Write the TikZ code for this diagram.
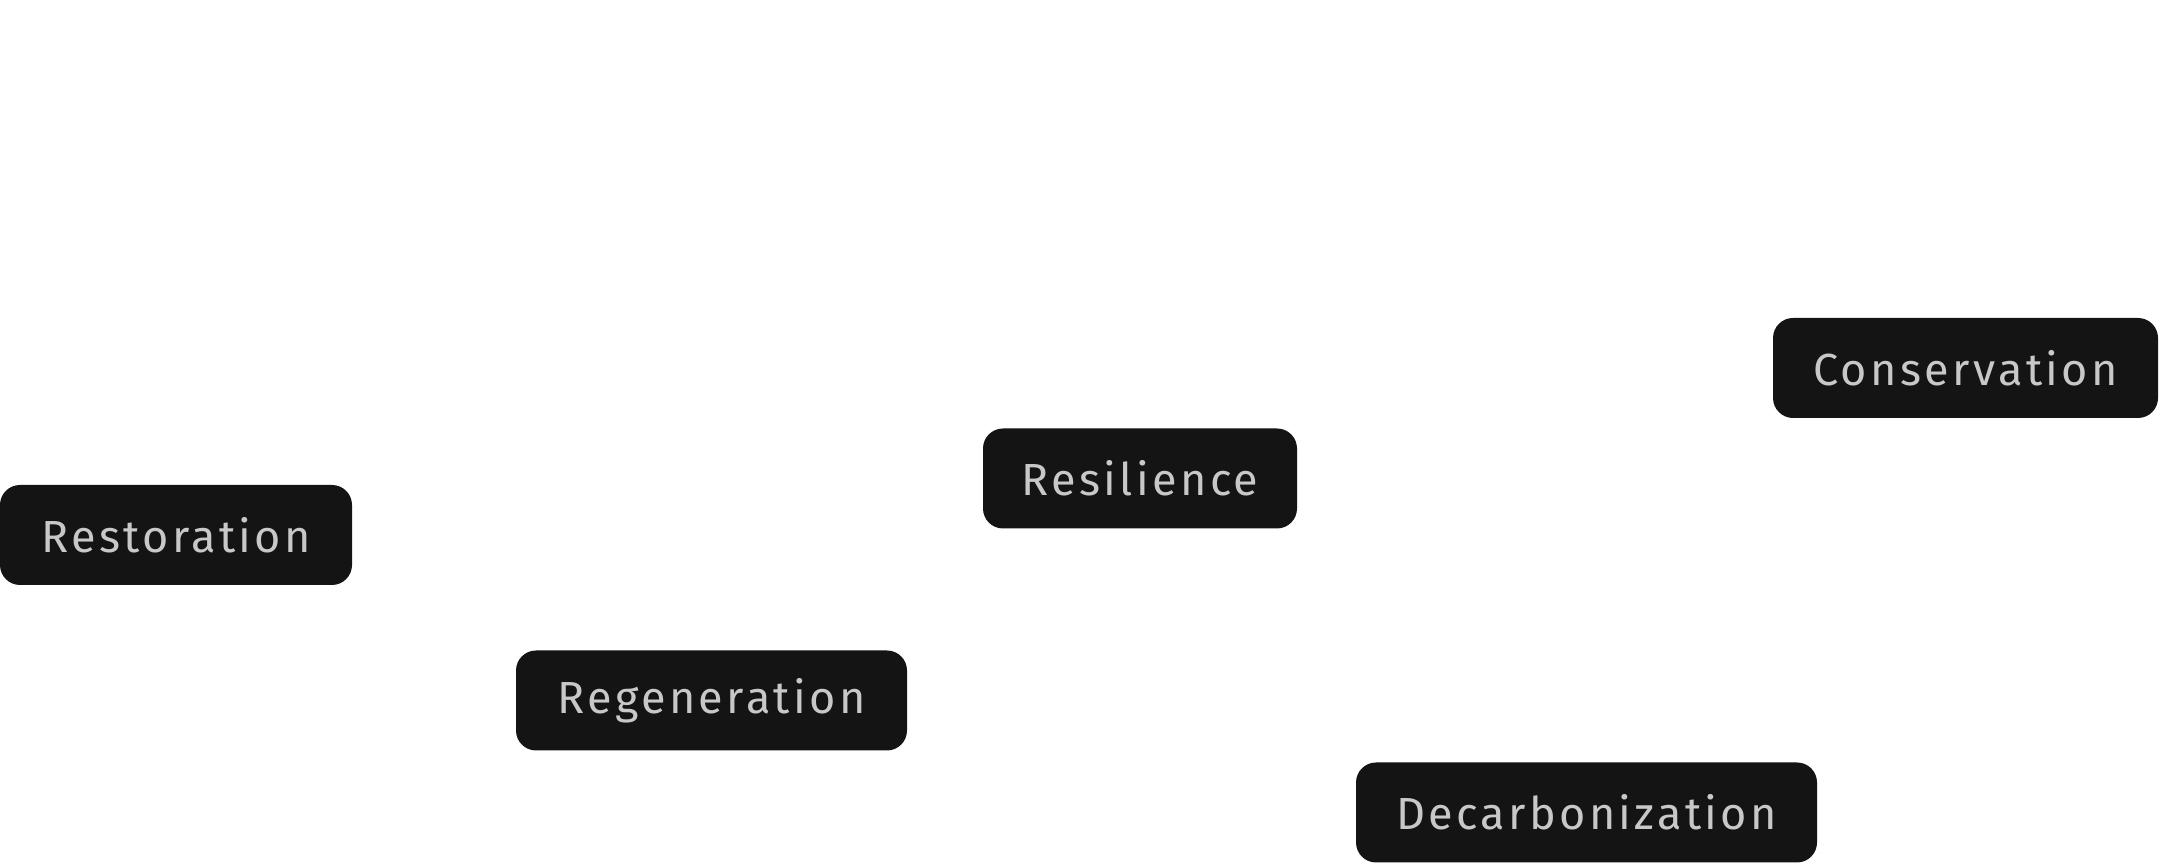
\documentclass[tikz,border=0pt]{standalone}
\usepackage{fontspec}
\setmainfont{Fira Sans}[LetterSpace=7.5]
\usepackage{tikz}
\definecolor{pillfill}{HTML}{141414}
\definecolor{pilltext}{HTML}{C8C8C8}

\begin{document}
\begin{tikzpicture}
              \tikzstyle{pill}=[fill=pillfill, text=pilltext, rounded corners=0.2cm,
                inner sep=0pt, minimum height=1.0cm, font=\fontsize{12.8}{15}\selectfont]
              \useasboundingbox (0,0) rectangle (21.6,8.64);
              \node [pill, minimum width=3.52cm] (restoration) at (1.76,3.29) {Restoration};
              \node [pill, minimum width=3.91cm] (regeneration) at (7.115,1.635) {Regeneration};
              \node [pill, minimum width=3.14cm] (resilience) at (11.40,3.855) {Resilience};
              \node [pill, minimum width=4.61cm] (decarbonization) at (15.865,0.515) {Decarbonization};
              \node [pill, minimum width=3.85cm] (conservation) at (19.655,4.96) {Conservation};
            \end{tikzpicture}
\end{document}
